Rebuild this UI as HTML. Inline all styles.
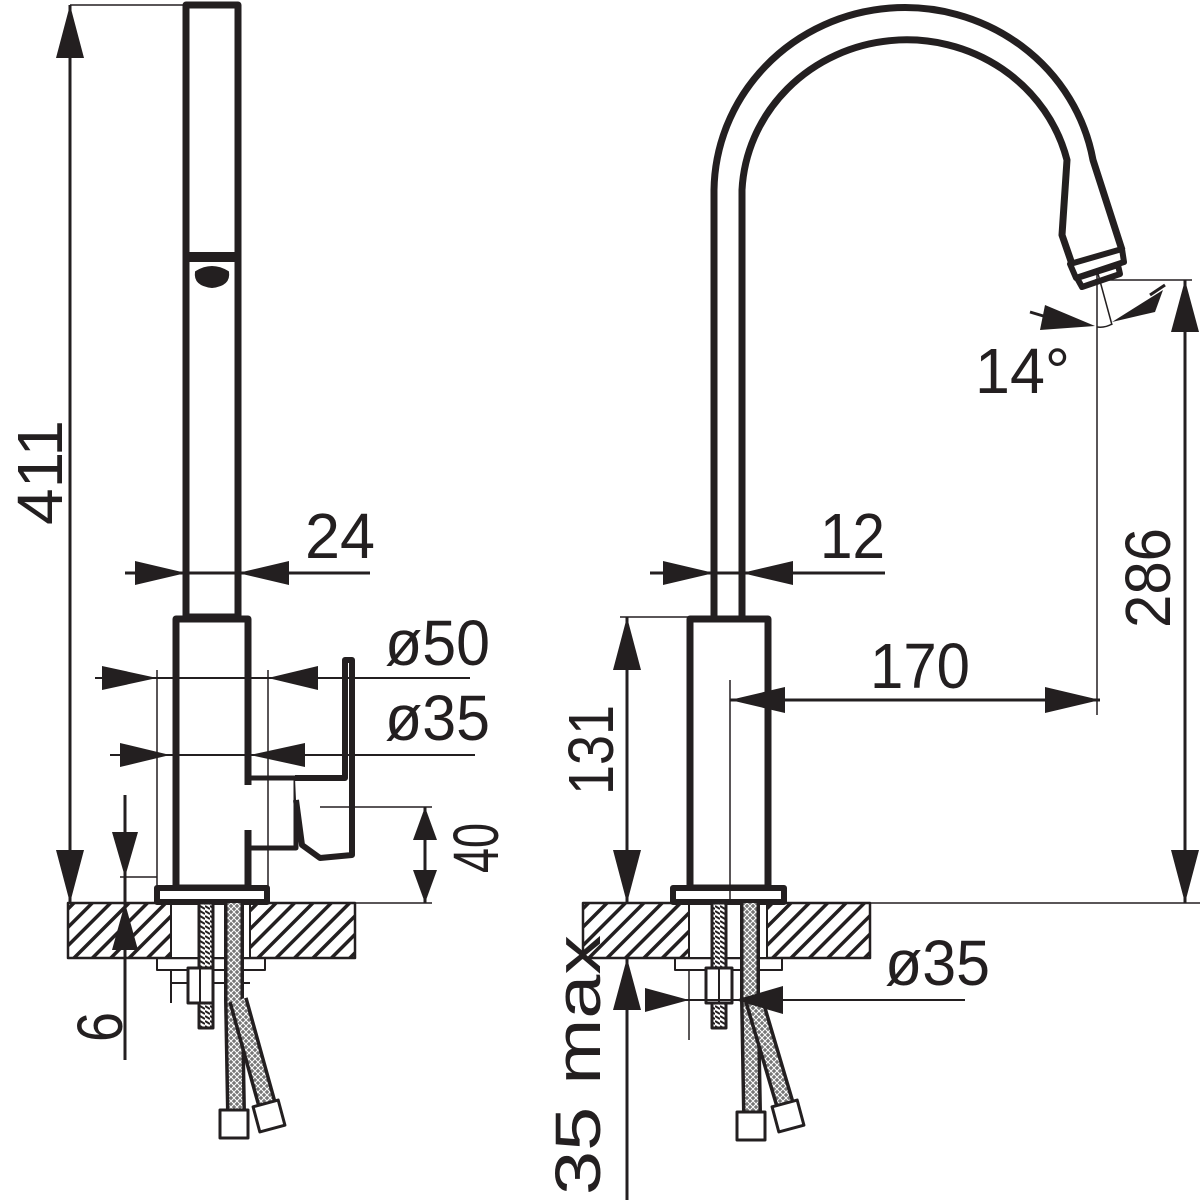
<!DOCTYPE html>
<html><head><meta charset="utf-8"><style>
html,body{margin:0;padding:0;background:#fff;}
svg{display:block;}
text{font-family:"Liberation Sans",sans-serif;fill:#231f20;font-size:64px;}
</style></head><body>
<svg width="1200" height="1200" viewBox="0 0 1200 1200" xmlns="http://www.w3.org/2000/svg">
<defs>
<pattern id="h" patternUnits="userSpaceOnUse" width="13" height="13" patternTransform="rotate(45)">
<rect x="0" y="0" width="3.5" height="13" fill="#231f20"/>
</pattern>
<pattern id="th" patternUnits="userSpaceOnUse" width="5" height="5">
<rect width="5" height="5" fill="#fff"/><line x1="0" y1="1" x2="5" y2="4" stroke="#231f20" stroke-width="2"/>
</pattern>
<pattern id="br" patternUnits="userSpaceOnUse" width="6" height="6">
<rect width="6" height="6" fill="#777"/><path d="M0 0 L3 3 L6 0 M0 6 L3 3 L6 6" stroke="#fff" stroke-width="1" fill="none"/>
</pattern>
</defs>
<g stroke="#231f20" fill="none" stroke-linejoin="round">
<rect x="68" y="903" width="287" height="55" fill="url(#h)" stroke-width="2.5"/>
<rect x="171" y="904" width="79" height="53" fill="#fff" stroke="none"/>
<line x1="171" y1="903" x2="171" y2="958" stroke-width="2"/>
<line x1="250" y1="903" x2="250" y2="958" stroke-width="2"/>
<rect x="186" y="5" width="52" height="612" stroke-width="7"/>
<path d="M186 252 L238 252 L238 262 L186 262 Z" fill="#231f20" stroke="none"/>
<path d="M196 272 Q212 262 228 272 Q230 285 212 287 Q194 285 196 272 Z" fill="#231f20" stroke-width="2"/>
<rect x="176" y="619" width="72" height="269" fill="#fff" stroke-width="7"/>
<rect x="157" y="888" width="110" height="14" fill="#fff" stroke-width="6"/>
<line x1="248" y1="785" x2="248" y2="830" stroke="#fff" stroke-width="8"/>
<path d="M248 778 L296 778 L296 848 L248 848" stroke-width="5"/>
<path d="M295 778 L345 778 L345 660 L352 660 L352 855 L320 858 L302 845 L296 800" fill="#fff" stroke-width="6"/>
<rect x="157" y="958" width="108" height="12" stroke-width="2"/>
<line x1="171" y1="970" x2="171" y2="1003" stroke-width="2"/>
<line x1="170" y1="983" x2="250" y2="983" stroke-width="2"/>
<rect x="199" y="903" width="14" height="125" fill="url(#th)" stroke-width="3"/>
<rect x="188" y="968" width="25" height="35" fill="#fff" stroke-width="3"/>
<line x1="200" y1="968" x2="200" y2="1003" stroke-width="2"/>
<path d="M234 903 L234 1000 L236 1112" stroke="#231f20" stroke-width="20"/>
<path d="M234 903 L234 1000 L236 1112" stroke="url(#br)" stroke-width="13"/>
<path d="M238 1000 L268 1108" stroke="#231f20" stroke-width="20"/>
<path d="M238 1000 L268 1108" stroke="url(#br)" stroke-width="13"/>
<rect x="220" y="1110" width="28" height="28" fill="#fff" stroke-width="3"/>
<rect x="256" y="1103" width="26" height="26" fill="#fff" stroke-width="3" transform="rotate(-15 269 1116)"/>
<line x1="70" y1="5" x2="186" y2="5" stroke-width="1.5"/>
<line x1="70" y1="5" x2="70" y2="903" stroke-width="3"/>
<line x1="125" y1="573" x2="370" y2="573" stroke-width="3"/>
<line x1="95" y1="678" x2="470" y2="678" stroke-width="2"/>
<line x1="110" y1="755" x2="475" y2="755" stroke-width="2"/>
<line x1="157" y1="670" x2="157" y2="890" stroke-width="1.5"/>
<line x1="268" y1="670" x2="268" y2="890" stroke-width="1.5"/>
<line x1="320" y1="807" x2="432" y2="807" stroke-width="1.5"/>
<line x1="268" y1="903" x2="432" y2="903" stroke-width="1.5"/>
<line x1="425" y1="807" x2="425" y2="903" stroke-width="3"/>
<line x1="125" y1="795" x2="125" y2="1060" stroke-width="3"/>
<line x1="120" y1="877" x2="157" y2="877" stroke-width="1.5"/>
<rect x="583" y="903" width="287" height="55" fill="url(#h)" stroke-width="2.5"/>
<rect x="689" y="904" width="78" height="53" fill="#fff" stroke="none"/>
<line x1="689" y1="903" x2="689" y2="958" stroke-width="2"/>
<line x1="767" y1="903" x2="767" y2="958" stroke-width="2"/>
<path d="M714 617 L714 190 A191 185 0 0 1 1093 160 L1122 250" stroke-width="7"/>
<path d="M742 617 L742 190 A165 158 0 0 1 1067 160 L1062 235 L1072 264" stroke-width="7"/>
<path d="M1070 264 L1122 249 L1124 262 L1076 278 Z" fill="#fff" stroke-width="6"/>
<path d="M1077 278 L1118 265 L1120 274 L1082 287 Z" fill="#fff" stroke-width="6"/>
<rect x="690" y="619" width="78" height="269" fill="#fff" stroke-width="7"/>
<line x1="688" y1="660" x2="688" y2="860" stroke-width="3"/>
<line x1="770" y1="660" x2="770" y2="860" stroke-width="3"/>
<rect x="673" y="888" width="111" height="14" fill="#fff" stroke-width="6"/>
<rect x="675" y="958" width="107" height="12" stroke-width="2"/>
<rect x="712" y="903" width="14" height="125" fill="url(#th)" stroke-width="3"/>
<rect x="706" y="968" width="26" height="35" fill="#fff" stroke-width="3"/>
<line x1="719" y1="968" x2="719" y2="1003" stroke-width="2"/>
<path d="M750 903 L750 1000 L752 1112" stroke="#231f20" stroke-width="20"/>
<path d="M750 903 L750 1000 L752 1112" stroke="url(#br)" stroke-width="13"/>
<path d="M754 1000 L786 1108" stroke="#231f20" stroke-width="20"/>
<path d="M754 1000 L786 1108" stroke="url(#br)" stroke-width="13"/>
<rect x="737" y="1112" width="28" height="28" fill="#fff" stroke-width="3"/>
<rect x="775" y="1103" width="26" height="26" fill="#fff" stroke-width="3" transform="rotate(-15 788 1116)"/>
<line x1="650" y1="573" x2="885" y2="573" stroke-width="3"/>
<line x1="620" y1="617" x2="690" y2="617" stroke-width="1.5"/>
<line x1="627" y1="617" x2="627" y2="903" stroke-width="3"/>
<line x1="627" y1="958" x2="627" y2="1200" stroke-width="3"/>
<line x1="583" y1="958" x2="627" y2="958" stroke-width="1.5"/>
<line x1="730" y1="680" x2="730" y2="903" stroke-width="1.5"/>
<line x1="730" y1="700" x2="1100" y2="700" stroke-width="3"/>
<line x1="784" y1="903" x2="1200" y2="903" stroke-width="1.5"/>
<line x1="1185" y1="280" x2="1185" y2="903" stroke-width="3"/>
<line x1="1095" y1="280" x2="1192" y2="280" stroke-width="1.5"/>
<line x1="1097" y1="268" x2="1097" y2="715" stroke-width="1.5"/>
<line x1="1097" y1="270" x2="1112" y2="325" stroke-width="1.5"/>
<path d="M1097 327 Q1105 328 1112 324" stroke-width="1.5"/>
<line x1="1030" y1="312" x2="1050" y2="318" stroke-width="3"/>
<line x1="1150" y1="295" x2="1165" y2="285" stroke-width="3"/>
<line x1="645" y1="1000" x2="965" y2="1000" stroke-width="2"/>
<line x1="689" y1="970" x2="689" y2="1040" stroke-width="1.5"/>
</g>
<g fill="#231f20">
<polygon points="70,5 56,58 84,58"/>
<polygon points="70,903 56,850 84,850"/>
<polygon points="186,573 135,561 135,585"/>
<polygon points="238,573 289,561 289,585"/>
<polygon points="157,678 102,666 102,690"/>
<polygon points="268,678 318,666 318,690"/>
<polygon points="170,755 120,743 120,767"/>
<polygon points="250,755 305,743 305,767"/>
<polygon points="425,807 413,840 437,840"/>
<polygon points="425,903 413,870 437,870"/>
<polygon points="125,877 112,832 138,832"/>
<polygon points="125,903 112,950 138,950"/>
<polygon points="714,573 663,561 663,585"/>
<polygon points="742,573 793,561 793,585"/>
<polygon points="627,617 613,670 641,670"/>
<polygon points="627,903 613,850 641,850"/>
<polygon points="627,958 613,1010 641,1010"/>
<polygon points="730,700 785,687 785,713"/>
<polygon points="1100,700 1045,687 1045,713"/>
<polygon points="1185,280 1171,332 1199,332"/>
<polygon points="1185,903 1171,850 1199,850"/>
<polygon points="1095,326 1045,305 1040,330"/>
<polygon points="1112,322 1163,290 1155,312"/>
<polygon points="689,1000 645,988 645,1012"/>
<polygon points="735,1000 783,986 783,1014"/>
</g>
<g>
<text x="305" y="558" textLength="70" lengthAdjust="spacingAndGlyphs">24</text>
<text x="385" y="665" textLength="105" lengthAdjust="spacingAndGlyphs">ø50</text>
<text x="385" y="740" textLength="105" lengthAdjust="spacingAndGlyphs">ø35</text>
<text x="820" y="558" textLength="65" lengthAdjust="spacingAndGlyphs">12</text>
<text x="870" y="688" textLength="100" lengthAdjust="spacingAndGlyphs">170</text>
<text x="975" y="393" textLength="95" lengthAdjust="spacingAndGlyphs">14°</text>
<text x="885" y="985" textLength="105" lengthAdjust="spacingAndGlyphs">ø35</text>
<text transform="translate(62,525) rotate(-90)" textLength="105" lengthAdjust="spacingAndGlyphs">411</text>
<text transform="translate(613,795) rotate(-90)" textLength="90" lengthAdjust="spacingAndGlyphs">131</text>
<text transform="translate(1170,628) rotate(-90)" textLength="100" lengthAdjust="spacingAndGlyphs">286</text>
<text transform="translate(498,873) rotate(-90)" textLength="50" lengthAdjust="spacingAndGlyphs">40</text>
<text transform="translate(122,1042) rotate(-90)" textLength="30" lengthAdjust="spacingAndGlyphs">6</text>
<text transform="translate(600,1195) rotate(-90)" textLength="260" lengthAdjust="spacingAndGlyphs">35 max</text>
</g>
</svg>
</body></html>
